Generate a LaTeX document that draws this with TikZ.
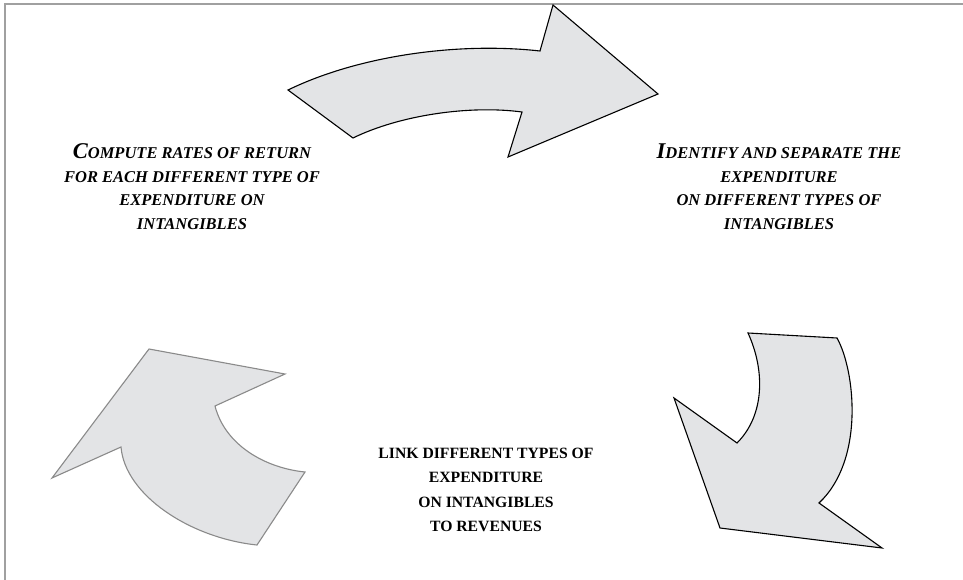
\documentclass[tikz,border=0pt]{standalone}
\usepackage{fontspec}
\setmainfont{Liberation Serif}
\usepackage{tikz}
\definecolor{arrowfill}{HTML}{E3E4E6}
\definecolor{framegray}{HTML}{A0A0A0}
\definecolor{edgegray}{HTML}{8A8A8A}
\newcommand*{\bigfirst}[1]{{\fontsize{22.5}{23.5}\selectfont #1}}
\tikzset{
	arrowshape/.style={fill=arrowfill, draw=black, line width=1.1pt, line join=miter},
	steptext/.style={font=\bfseries\itshape\fontsize{16.5}{23.5}\selectfont, align=center, inner sep=0pt, anchor=north},
	linktext/.style={font=\bfseries\fontsize{15.7}{24.3}\selectfont, align=center, inner sep=0pt, anchor=north}
}

\begin{document}
\begin{tikzpicture}[x=1pt,y=-1pt]
			\useasboundingbox (0,0) rectangle (963,580);
			\draw[framegray, line width=1.8pt] (5,580)--(5,4)--(963,4);
			% top arrow
			\draw[arrowshape] (288,90) -- (353,138)
				.. controls (400,115) and (470,105) .. (522,112)
				-- (508,157) -- (658,94) -- (553,5) -- (540,51)
				.. controls (460,42) and (360,55) .. cycle;
			% right arrow
			\draw[arrowshape] (748,333) -- (837,338)
				.. controls (855,370) and (865,460) .. (819,503)
				-- (882,548) -- (720,528) -- (674,398) -- (737,443)
				.. controls (765,415) and (765,370) .. cycle;
			% left arrow
			\draw[arrowshape, draw=edgegray] (149,349) -- (285,374) -- (215,406)
				.. controls (225,445) and (265,468) .. (305,472)
				-- (257,545)
				.. controls (190,538) and (125,495) .. (121,447)
				-- (52,478) -- cycle;
			\node[steptext] (compute) at (192,143.5) {\bigfirst{C}OMPUTE RATES OF RETURN\\FOR EACH DIFFERENT TYPE OF\\EXPENDITURE ON\\INTANGIBLES};
			\node[steptext] (identify) at (779,144) {\bigfirst{I}DENTIFY AND SEPARATE THE\\EXPENDITURE\\ON DIFFERENT TYPES OF\\INTANGIBLES};
			\node[linktext] (link) at (486,448) {LINK DIFFERENT TYPES OF\\EXPENDITURE\\ON INTANGIBLES\\TO REVENUES};
		\end{tikzpicture}
\end{document}
